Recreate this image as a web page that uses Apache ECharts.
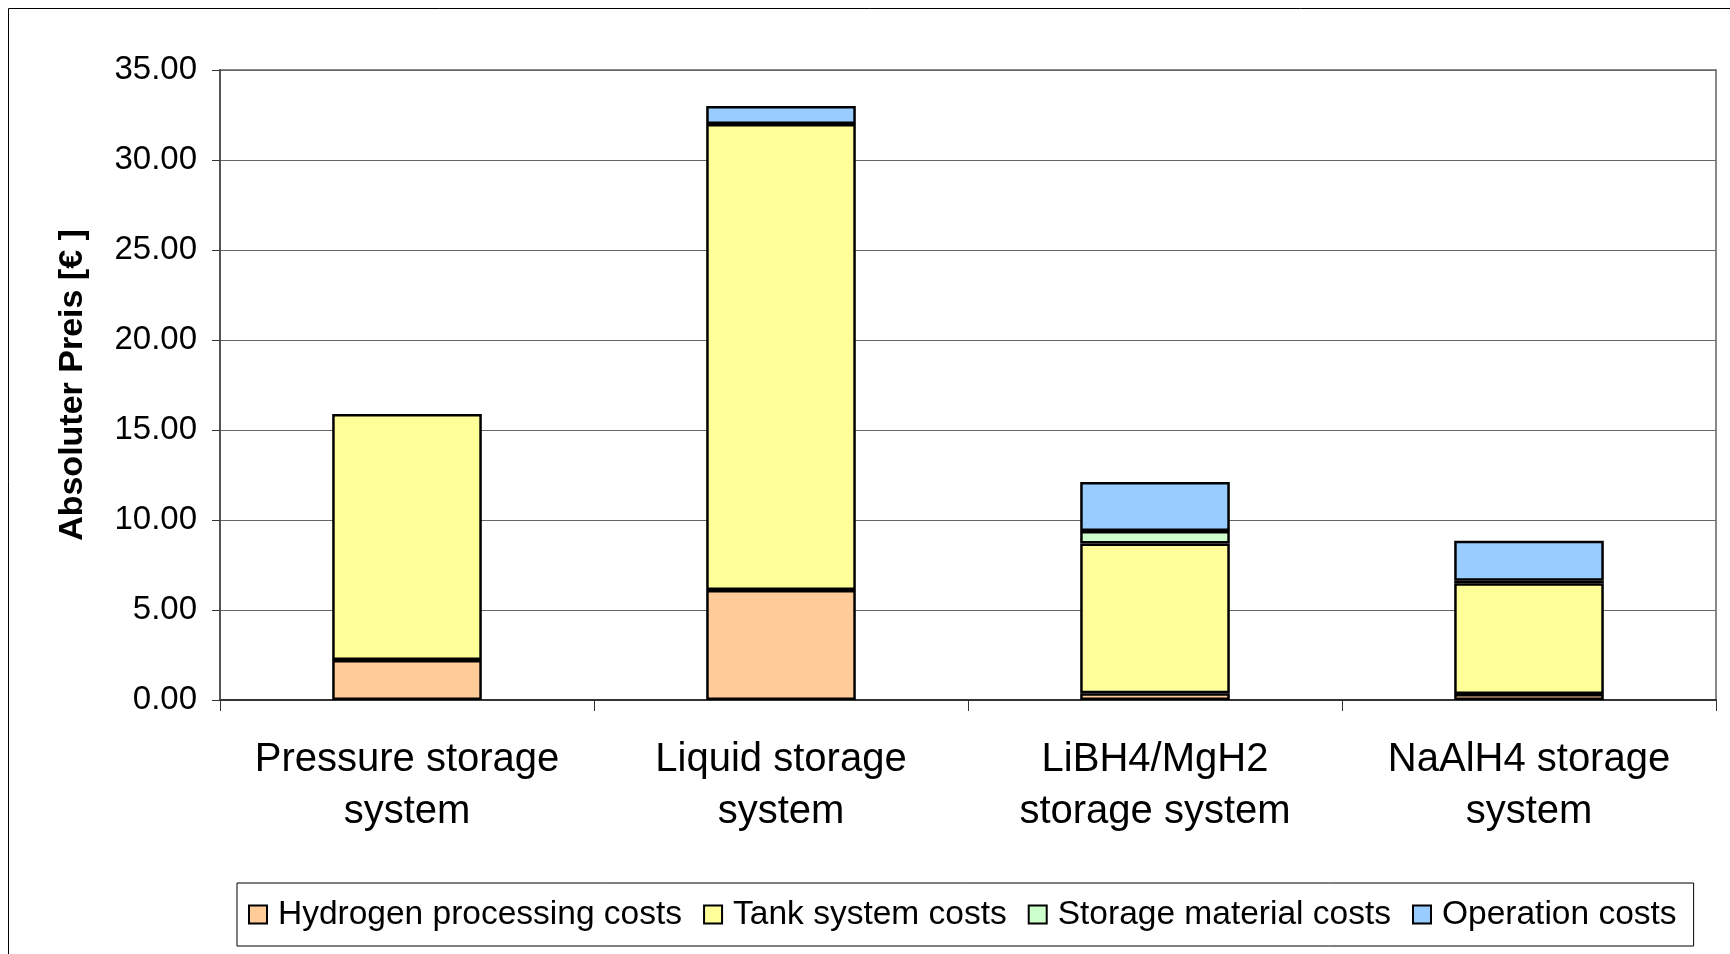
<!DOCTYPE html>
<html>
<head>
<meta charset="utf-8">
<script src="https://cdn.jsdelivr.net/npm/echarts@6/dist/echarts.min.js"></script>
<style>
  html, body { margin: 0; padding: 0; background: #fff; }
  #chart { width: 1730px; height: 954px; }
</style>
</head>
<body>
<div id="chart"></div>
<script>
// values
let categories = ['Pressure storage\nsystem', 'Liquid storage\nsystem', 'LiBH4/MgH2\nstorage system', 'NaAlH4 storage\nsystem'];
let processing = [2.22, 6.11, 0.37, 0.33];
let tank = [13.67, 25.89, 8.33, 6.15];
let material = [null, null, 0.69, 0.15];
let operation = [null, 1.0, 2.72, 2.22];
let yTicks = [0, 5, 10, 15, 20, 25, 30, 35];

let seriesNames = ['Hydrogen processing costs', 'Tank system costs', 'Storage material costs', 'Operation costs'];
let colors = ['#FFCC99', '#FFFF99', '#CCFFCC', '#99CCFF'];

let font = "'Liberation Sans', Arial, sans-serif";

let myChart = echarts.init(document.getElementById('chart'));
let option;

let mkSeries = (name, data, color) => {
  return {
    name: name,
    type: 'bar',
    stack: 'total',
    barWidth: '40%',
    data: data,
    itemStyle: {
      color: color,
      borderColor: '#000',
      borderWidth: 2.5
    }
  };
};

option = {
  backgroundColor: '#fff',
  animation: false,
  textStyle: { fontFamily: font, color: '#000' },
  graphic: [
    {
      type: 'rect',
      shape: { x: 8.5, y: 8.5, width: 1800, height: 1000 },
      style: { fill: 'none', stroke: '#000', lineWidth: 1 },
      silent: true
    }
  ],
  grid: {
    left: 220,
    right: 14,
    top: 70,
    bottom: 254,
    show: true,
    borderColor: '#888',
    borderWidth: 2,
    backgroundColor: '#fff'
  },
  legend: {
    left: 237,
    top: 883,
    orient: 'horizontal',
    padding: [14, 17, 14, 11],
    itemGap: 21,
    itemWidth: 18,
    itemHeight: 18,
    borderColor: '#000',
    borderWidth: 1,
    icon: 'rect',
    itemStyle: { borderColor: '#000', borderWidth: 2 },
    textStyle: { fontFamily: font, fontSize: 33.5, color: '#000', lineHeight: 35, padding: [0, 0, 0, 6] },
    data: seriesNames
  },
  xAxis: {
    type: 'category',
    data: categories,
    axisLine: { lineStyle: { color: '#333', width: 2 } },
    axisTick: { show: true, length: 11, lineStyle: { color: '#333', width: 1 } },
    axisLabel: {
      fontFamily: font,
      fontSize: 40,
      color: '#000',
      lineHeight: 52,
      margin: 34,
      interval: 0
    }
  },
  yAxis: {
    type: 'value',
    min: 0,
    max: 35,
    interval: 5,
    name: 'Absoluter Preis [€ ]',
    nameLocation: 'middle',
    nameGap: 130,
    nameTextStyle: { fontFamily: font, fontSize: 34, fontWeight: 'bold', color: '#000' },
    axisLine: { show: true, lineStyle: { color: '#555', width: 2 } },
    axisTick: { show: true, inside: false, length: 8, lineStyle: { color: '#333' } },
    splitLine: { show: true, lineStyle: { color: '#666', width: 1 } },
    axisLabel: {
      fontFamily: font,
      fontSize: 33,
      color: '#000',
      margin: 23,
      formatter: (v) => yTicks.includes(v) ? v.toFixed(2) : ''
    }
  },
  series: [
    mkSeries(seriesNames[0], processing, colors[0]),
    mkSeries(seriesNames[1], tank, colors[1]),
    mkSeries(seriesNames[2], material, colors[2]),
    mkSeries(seriesNames[3], operation, colors[3])
  ]
};

option && myChart.setOption(option);
</script>
</body>
</html>
